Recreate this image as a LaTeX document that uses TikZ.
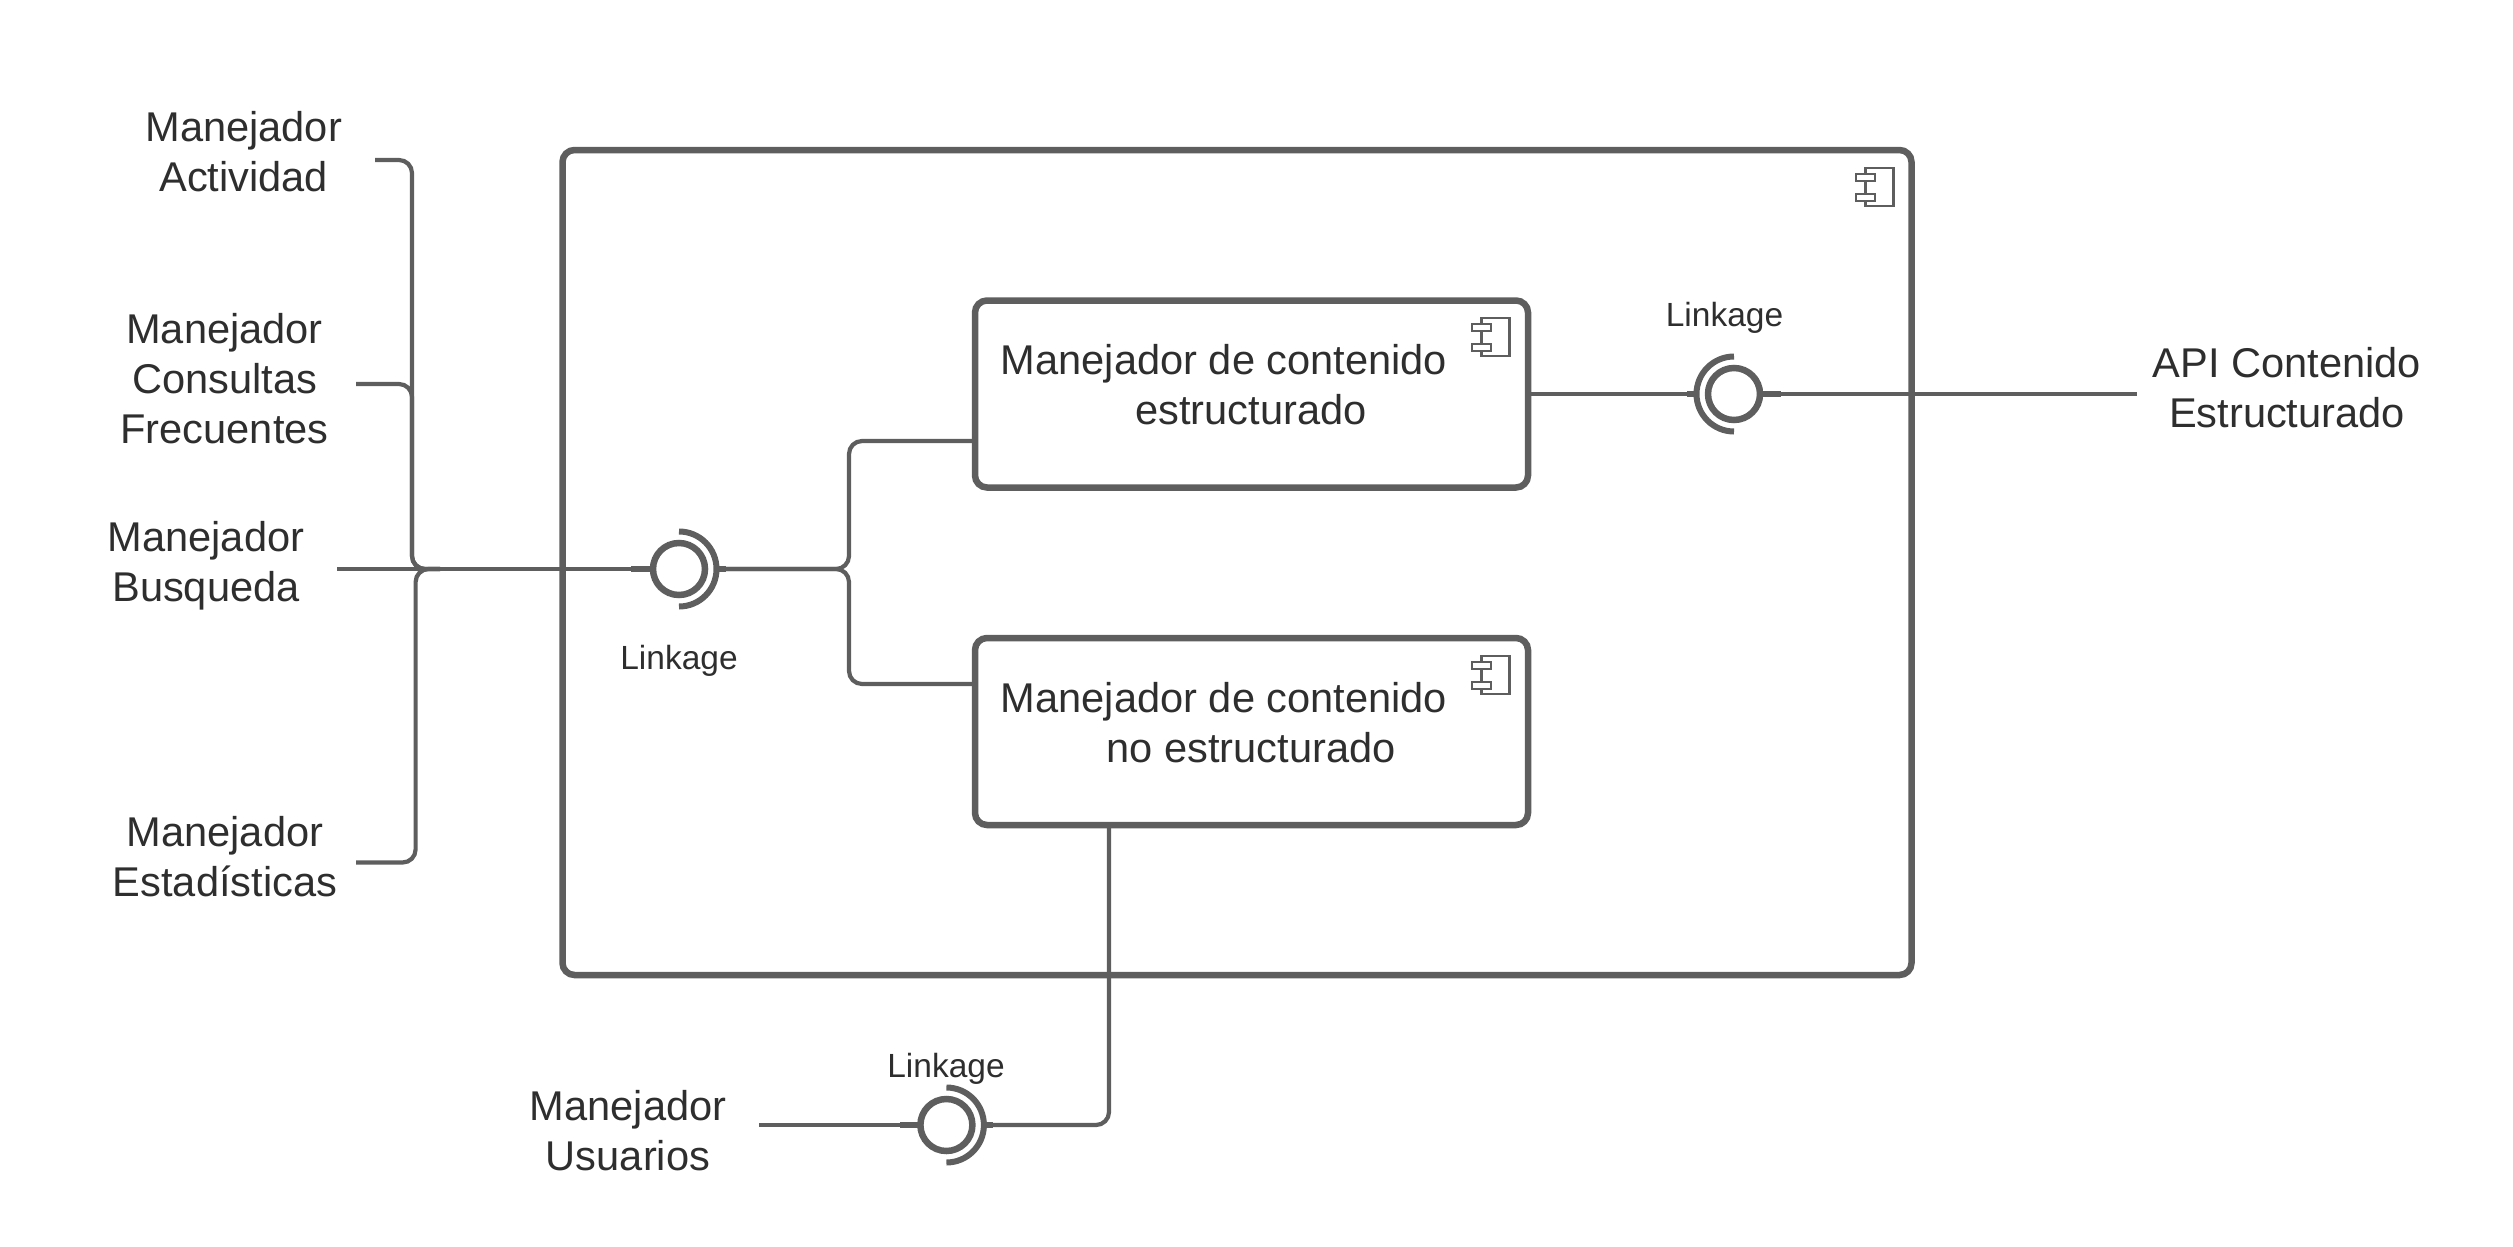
\documentclass[tikz,border=0pt]{standalone}
\usepackage{fontspec}
\setmainfont{Liberation Sans}
\usetikzlibrary{calc, positioning}
\definecolor{linegray}{HTML}{5E5E5E}
\definecolor{textgray}{HTML}{2E2E2E}
\tikzset{
	compbox/.style={draw=linegray, line width=6.5pt, rounded corners=12pt, inner sep=0pt, outer sep=0pt},
	bigtext/.style={text=textgray, align=center, inner sep=0pt, font=\fontsize{41.6}{50}\selectfont},
	linktext/.style={text=textgray, inner sep=0pt, font=\fontsize{33.5}{40}\selectfont},
	conn/.style={draw=linegray, line width=4.2pt, rounded corners=13pt},
	stub/.style={draw=linegray, line width=6pt},
	ball/.style={circle, draw=linegray, line width=6.5pt, minimum size=52pt, inner sep=0pt, outer sep=0pt},
	socket/.style={draw=linegray, line width=6pt},
	iconpart/.style={draw=linegray, line width=2.2pt, fill=white},
}
\begin{document}
\begin{tikzpicture}[x=1pt, y=-1pt]
	\useasboundingbox (0,0) rectangle (2513,1247);
	
	\node[compbox, minimum width=1349pt, minimum height=825pt] (outer) at (1237,562.5) {};
	\node[compbox, minimum width=553pt, minimum height=187pt] (boxA) at (1251.5,394) {};
	\node[compbox, minimum width=553pt, minimum height=187pt] (boxB) at (1251.5,731.5) {};
	
	\node[bigtext] (boxAtext) at (1251,385) {Manejador de contenido\hspace*{54pt}\\estructurado};
	\node[bigtext] (boxBtext) at (1251,723) {Manejador de contenido\hspace*{54pt}\\no estructurado};
	
	\node[bigtext] (actividad) at (243.7,152) {Manejador\\Actividad};
	\node[bigtext] (consultas) at (224.5,378.5) {Manejador\\Consultas\\Frecuentes};
	\node[bigtext] (busqueda) at (206,566) {Manejador\\Busqueda};
	\node[bigtext] (estadisticas) at (225,857) {Manejador\\Estadísticas};
	\node[bigtext] (usuarios) at (628,1131) {Manejador\\Usuarios};
	\node[bigtext] (api) at (2287,388) {API Contenido\\Estructurado};
	
	\node[ball] (ifaceA) at (679,569) {};
	\node[ball] (ifaceB) at (1734,394) {};
	\node[ball] (ifaceC) at (946.4,1125) {};
	
	\node[linktext] (linkA) at (679,661) {Linkage};
	\node[linktext] (linkB) at (1724.5,318) {Linkage};
	\node[linktext] (linkC) at (946,1069) {Linkage};
	
	\coordinate (actEnd) at (375,160);
	\coordinate (conEnd) at (356,384);
	\coordinate (busEnd) at (337,569);
	\coordinate (estEnd) at (356,862.5);
	\coordinate (usuEnd) at (759,1125);
	\coordinate (apiEnd) at (2136.5,394);
	\coordinate (sockA) at (718,569);
	\coordinate (sockB) at (1695,394);
	\coordinate (sockC) at (985.5,1125);
	\coordinate (juncA) at (849,569);
	\coordinate (inA) at (975,441);
	\coordinate (inB) at (975,684);
	\coordinate (outB) at (1109,825);
	
	% sockets
	\draw[socket] (679,531.5) arc[start angle=90, end angle=-90, radius=37.5pt];
	\draw[socket] (1734,356.5) arc[start angle=90, end angle=270, radius=37.5pt];
	\draw[socket] (946.4,1087.5) arc[start angle=90, end angle=-90, radius=37.5pt];
	
	\draw[stub] (631,569) -- (ifaceA.west);
	\draw[stub] (sockA) -- (726,569);
	\draw[stub] (1687,394) -- (sockB);
	\draw[stub] (ifaceB.east) -- (1781,394);
	\draw[stub] (900,1125) -- (ifaceC.west);
	\draw[stub] (sockC) -- (993,1125);
	
	% left side
	\draw[conn] (actEnd) -| (412,569) -- (440,569);
	\draw[conn] (conEnd) -| (412,569) -- (440,569);
	\draw[conn] (estEnd) -| (415.6,569) -- (440,569);
	\draw[conn] (busEnd) -- (ifaceA.west);
	
	\draw[conn] (sockA) -- (juncA) |- (inA);
	\draw[conn] (sockA) -- (juncA) |- (inB);
	\draw[conn] (boxA.east) -- (sockB);
	\draw[conn] (ifaceB.east) -- (apiEnd);
	\draw[conn] (usuEnd) -- (ifaceC.west);
	\draw[conn] (sockC) -| (outB);
	
	% component icons
	\foreach \ix/\iy in {1865.5/168, 1481.5/318, 1481.5/656} {
		\draw[iconpart] (\ix,\iy) rectangle ++(28,38);
		\draw[iconpart] (\ix-9.5,\iy+6) rectangle ++(19,7);
		\draw[iconpart] (\ix-9.5,\iy+26) rectangle ++(19,7);
	}
\end{tikzpicture}
\end{document}
